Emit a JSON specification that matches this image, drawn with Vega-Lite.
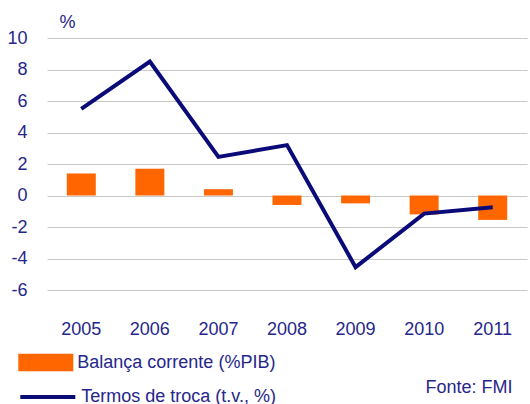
{
  "$schema": "https://vega.github.io/schema/vega-lite/v6.json",
  "width": 480,
  "height": 252,
  "autosize": {"type": "none"},
  "padding": {"left": 47, "top": 38, "right": 3, "bottom": 114},
  "background": "white",
  "config": {
    "view": {"stroke": null},
    "font": "Liberation Sans",
    "axis": {"labelFont": "Liberation Sans", "titleFont": "Liberation Sans", "labelOverlap": false},
    "legend": {"labelFont": "Liberation Sans"}
  },
  "data": {
    "values": [
      {"ano": "2005", "balanca": 1.4, "termos": 5.5},
      {"ano": "2006", "balanca": 1.7, "termos": 8.5},
      {"ano": "2007", "balanca": 0.4, "termos": 2.45},
      {"ano": "2008", "balanca": -0.6, "termos": 3.2},
      {"ano": "2009", "balanca": -0.5, "termos": -4.55},
      {"ano": "2010", "balanca": -1.2, "termos": -1.15},
      {"ano": "2011", "balanca": -1.55, "termos": -0.75}
    ]
  },
  "encoding": {
    "x": {
      "field": "ano",
      "type": "ordinal",
      "scale": {"type": "band", "paddingInner": 0, "paddingOuter": 0},
      "axis": {
        "title": "Fonte: FMI",
        "titleX": 465,
        "titleY": 97,
        "titleAlign": "right",
        "titleBaseline": "middle",
        "titleFontSize": 18,
        "titleFontWeight": "normal",
        "titleColor": "#26268c",
        "labelAngle": 0,
        "domain": false,
        "ticks": false,
        "grid": false,
        "labelFontSize": 18,
        "labelColor": "#26268c",
        "labelPadding": 30
      }
    }
  },
  "layer": [
    {
      "mark": {"type": "bar", "size": 29},
      "encoding": {
        "y": {
          "field": "balanca",
          "type": "quantitative",
          "scale": {"domain": [-6, 10], "nice": false},
          "axis": {
            "title": "%",
            "titleAngle": 0,
            "titleAlign": "center",
            "titleBaseline": "middle",
            "titleX": 20,
            "titleY": -16,
            "titleFontSize": 18,
            "titleFontWeight": "normal",
            "titleColor": "#26268c",
            "values": [-6, -4, -2, 0, 2, 4, 6, 8, 10],
            "labelExpr": "toString(datum.value)",
            "labelOverlap": false,
            "domain": false,
            "ticks": false,
            "grid": true,
            "gridColor": "#c8c8c8",
            "gridWidth": 1.2,
            "labelFontSize": 18,
            "labelColor": "#26268c",
            "labelPadding": 20
          }
        },
        "fill": {
          "datum": "Balança corrente (%PIB)",
          "type": "nominal",
          "scale": {"range": ["#ff6600"]},
          "legend": {
            "title": null,
            "orient": "none",
            "legendX": -28.7,
            "legendY": 297,
            "symbolType": "M-1,-0.32L1,-0.32L1,0.32L-1,0.32Z",
            "symbolSize": 3025,
            "symbolStrokeWidth": 0,
            "labelFontSize": 18,
            "labelColor": "#26268c",
            "labelOffset": 4,
            "labelLimit": 400
          }
        }
      }
    },
    {
      "mark": {"type": "line", "strokeWidth": 4},
      "encoding": {
        "y": {
          "field": "termos",
          "type": "quantitative",
          "axis": {
            "title": "%",
            "titleAngle": 0,
            "titleAlign": "center",
            "titleBaseline": "middle",
            "titleX": 20,
            "titleY": -16,
            "titleFontSize": 18,
            "titleFontWeight": "normal",
            "titleColor": "#26268c",
            "values": [-6, -4, -2, 0, 2, 4, 6, 8, 10],
            "labelExpr": "toString(datum.value)",
            "labelOverlap": false,
            "domain": false,
            "ticks": false,
            "grid": true,
            "gridColor": "#c8c8c8",
            "gridWidth": 1.2,
            "labelFontSize": 18,
            "labelColor": "#26268c",
            "labelPadding": 20
          }
        },
        "stroke": {
          "datum": "Termos de troca (t.v., %)",
          "type": "nominal",
          "scale": {"range": ["#0a0a78"]},
          "legend": {
            "title": null,
            "orient": "none",
            "legendX": -28.7,
            "legendY": 329.5,
            "symbolType": "stroke",
            "symbolSize": 3025,
            "symbolStrokeWidth": 4,
            "labelFontSize": 18,
            "labelColor": "#26268c",
            "labelOffset": 4,
            "labelLimit": 400
          }
        }
      }
    }
  ],
  "resolve": {"scale": {"fill": "independent", "stroke": "independent"}}
}
